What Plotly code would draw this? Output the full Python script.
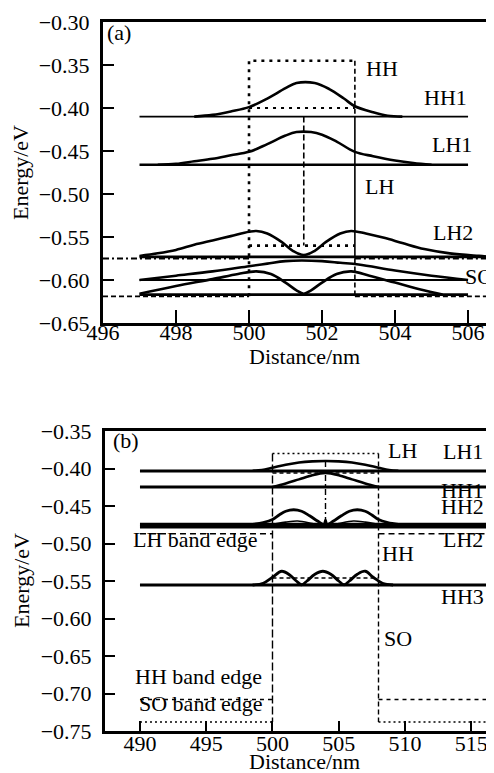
import plotly.graph_objects as go

W, H = 494, 773
FONT = "Liberation Serif, Times New Roman, serif"
FS = 22

# ---------------- panel (a) data ----------------
a_level_E = [-0.410, -0.466, -0.573, -0.600, -0.617]
a_level_x0 = [497.0, 497.0, 497.0, 497.0, 497.0]
a_level_x1 = [506.0, 506.0, 507.0, 506.0, 506.0]
a_level_w = [1.6, 2.4, 2.8, 2.0, 2.6]

a_hh1_x = [498.5, 499.0, 499.5, 500.0, 500.5, 501.0, 501.3, 501.8, 502.2, 502.6, 502.9, 503.4, 503.8, 504.2]
a_hh1_E = [-0.410, -0.408, -0.404, -0.399, -0.389, -0.377, -0.371, -0.371, -0.378, -0.389, -0.398, -0.405, -0.409, -0.410]

a_lh1_x = [497.5, 498.0, 498.5, 499.0, 499.5, 500.0, 500.5, 501.0, 501.3, 501.7, 502.0, 502.4, 502.9, 503.4, 504.0, 504.5, 505.0]
a_lh1_E = [-0.466, -0.465, -0.462, -0.459, -0.455, -0.451, -0.442, -0.432, -0.428, -0.428, -0.431, -0.439, -0.451, -0.456, -0.461, -0.464, -0.466]

a_lh2_x = [497.0, 497.5, 498.0, 498.5, 499.0, 499.5, 500.0, 500.2, 500.5, 500.9, 501.2, 501.5, 501.8, 502.1, 502.5, 502.8, 503.2, 503.7, 504.2, 504.8, 505.5, 506.3, 507.0]
a_lh2_E = [-0.572, -0.569, -0.565, -0.559, -0.554, -0.549, -0.544, -0.543, -0.546, -0.556, -0.566, -0.571, -0.566, -0.556, -0.546, -0.543, -0.546, -0.551, -0.557, -0.564, -0.569, -0.572, -0.574]

a_so1_x = [497.0, 498.0, 499.0, 500.0, 500.5, 501.0, 502.0, 502.5, 503.0, 504.0, 505.0, 506.0]
a_so1_E = [-0.600, -0.595, -0.590, -0.584, -0.581, -0.578, -0.578, -0.580, -0.582, -0.589, -0.595, -0.600]

a_so2_x = [497.0, 498.0, 499.0, 499.7, 500.2, 500.6, 501.0, 501.3, 501.5, 501.7, 502.0, 502.4, 502.8, 503.3, 504.0, 504.7, 505.3]
a_so2_E = [-0.616, -0.607, -0.599, -0.593, -0.590, -0.593, -0.603, -0.612, -0.616, -0.612, -0.603, -0.593, -0.590, -0.595, -0.603, -0.611, -0.617]

# potential profile (a)
a_well_left, a_well_right, a_center = 500.0, 502.9, 501.5
a_hh_top, a_inner_top, a_inner_mid = -0.345, -0.400, -0.560
a_edge_hh, a_edge_so = -0.575, -0.619

a_labels = ["(a)", "HH", "HH1", "LH1", "LH", "LH2", "SO"]
a_lab_x = [496.05, 503.15, 505.37, 505.55, 503.12, 505.6, 506.74]
a_lab_E = [-0.3186, -0.3616, -0.3948, -0.4494, -0.4988, -0.5523, -0.6029]
a_lab_anchor = ["left", "left", "center", "center", "left", "center", "right"]

# ---------------- panel (b) data ----------------
b_level_E = [-0.4033, -0.4247, -0.4745, -0.4775, -0.5553]
b_level_w = [3.0, 3.0, 3.5, 3.5, 3.0]
b_level_x0 = 490.0
b_level_x1 = 517.4

b_lh1_x = [498.5, 499.2, 500.0, 501.0, 502.0, 503.0, 504.0, 505.0, 506.0, 507.0, 508.0, 508.8, 509.5]
b_lh1_E = [-0.403, -0.402, -0.399, -0.395, -0.392, -0.3905, -0.390, -0.3905, -0.392, -0.395, -0.399, -0.402, -0.403]

b_hh1_x = [500.0, 501.0, 502.0, 503.0, 503.6, 504.0, 504.4, 505.0, 506.0, 507.0, 508.0]
b_hh1_E = [-0.4247, -0.420, -0.4145, -0.409, -0.4065, -0.406, -0.4065, -0.409, -0.4145, -0.420, -0.4247]

b_hh2_x = [498.5, 499.3, 500.0, 500.5, 501.0, 501.6, 502.2, 502.8, 503.4, 503.9, 504.0, 504.1, 504.6, 505.2, 505.8, 506.4, 507.0, 507.5, 508.0, 508.7, 509.5]
b_hh2_E = [-0.4745, -0.472, -0.468, -0.462, -0.457, -0.455, -0.457, -0.463, -0.470, -0.4745, -0.469, -0.4745, -0.470, -0.463, -0.457, -0.455, -0.457, -0.462, -0.468, -0.472, -0.4745]

b_lh2_x = [499.0, 500.0, 501.0, 501.9, 503.0, 504.0, 505.0, 506.1, 507.0, 508.0, 509.0]
b_lh2_E = [-0.4775, -0.4745, -0.4715, -0.470, -0.4735, -0.4775, -0.4735, -0.470, -0.4715, -0.4745, -0.4775]

b_hh3_x = [498.5, 499.3, 500.0, 500.7, 501.3, 501.8, 502.2, 502.6, 503.2, 503.8, 504.4, 505.0, 505.4, 505.8, 506.4, 507.0, 507.6, 508.3, 509.1]
b_hh3_E = [-0.5553, -0.553, -0.545, -0.537, -0.542, -0.550, -0.555, -0.550, -0.541, -0.537, -0.541, -0.550, -0.555, -0.550, -0.541, -0.537, -0.545, -0.553, -0.5553]

b_well_left, b_well_right, b_center = 500.0, 508.0, 504.0
b_lh_top, b_hh_in, b_hh_in2 = -0.380, -0.546, -0.406
b_edge_lh, b_edge_hh, b_edge_so = -0.487, -0.708, -0.738

b_labels = ["(b)", "LH", "LH1", "HH1", "HH2", "LH band edge", "LH2", "HH", "HH3", "SO", "HH band edge", "SO band edge"]
b_lab_x = [487.8, 508.54, 514.34, 514.34, 514.34, 494.2, 514.34, 508.08, 514.34, 508.3, 494.45, 494.6]
b_lab_E = [-0.3713, -0.384, -0.3853, -0.4373, -0.4593, -0.502, -0.5027, -0.5213, -0.5793, -0.634, -0.6847, -0.7207]
b_lab_anchor = ["left", "left", "center", "center", "center", "center", "center", "left", "center", "left", "center", "center"]

# ---------------- figure ----------------
fig = go.Figure()


def line(x, y, xa, ya, width=2.5, dash="solid", shape="linear"):
    fig.add_trace(go.Scatter(x=x, y=y, mode="lines", xaxis=xa, yaxis=ya,
                             line=dict(color="black", width=width, dash=dash, shape=shape),
                             hoverinfo="skip", showlegend=False))


# panel (a): potentials
line([a_well_left, a_well_left, a_well_right], [a_edge_so, a_hh_top, a_hh_top], "x", "y", 2.6, "3px,5px")
line([a_well_right, a_well_right], [a_hh_top, a_level_E[0]], "x", "y", 1.6, "5px,3px")
line([a_well_left, a_well_right], [a_inner_top, a_inner_top], "x", "y", 1.8, "3px,5px")
line([a_well_left, a_well_right], [a_inner_mid, a_inner_mid], "x", "y", 2.6, "3px,5px")
line([a_well_right, a_well_right], [a_level_E[0], a_edge_hh], "x", "y", 1.6)
line([a_well_right, a_well_right], [a_edge_hh, a_edge_so], "x", "y", 1.6, "5px,3px")
line([a_center, a_center], [a_level_E[0], a_inner_mid], "x", "y", 1.6, "6px,3px")
line([496.0, a_well_left, None, a_well_right, 507.0], [a_edge_hh, a_edge_hh, None, a_edge_hh, a_edge_hh], "x", "y", 1.8, "6px,3px,2px,3px")
line([496.0, a_well_left, None, a_well_right, 507.0], [a_edge_so, a_edge_so, None, a_edge_so, a_edge_so], "x", "y", 1.6, "5px,3px")

# panel (a): levels and wavefunctions
for E, x0, x1, w in zip(a_level_E, a_level_x0, a_level_x1, a_level_w):
    line([x0, x1], [E, E], "x", "y", w)
for xs, es in [(a_hh1_x, a_hh1_E), (a_lh1_x, a_lh1_E), (a_lh2_x, a_lh2_E), (a_so1_x, a_so1_E), (a_so2_x, a_so2_E)]:
    line(xs, es, "x", "y", 2.6, shape="spline")

# panel (b): potentials
line([b_well_left, b_well_left], [b_lh_top, b_edge_so], "x2", "y2", 1.4, "8px,3px")
line([b_well_right, b_well_right], [b_lh_top, b_edge_so], "x2", "y2", 1.4, "5px,3px")
line([b_well_left, b_well_right], [b_lh_top, b_lh_top], "x2", "y2", 1.4, "2px,3px")
line([b_center, b_center], [b_lh1_E[6], b_level_E[2]], "x2", "y2", 1.4, "6px,3px,2px,3px")
line([b_well_left, b_well_right], [b_hh_in, b_hh_in], "x2", "y2", 1.3, "4px,3px")
line([b_well_left, b_well_right], [b_hh_in2, b_hh_in2], "x2", "y2", 1.3, "4px,3px")
line([b_level_x0, b_well_left, None, b_well_right, b_level_x1], [b_edge_lh] * 2 + [None] + [b_edge_lh] * 2, "x2", "y2", 1.4, "6px,4px")
line([b_level_x0, b_well_left, None, b_well_right, b_level_x1], [b_edge_hh] * 2 + [None] + [b_edge_hh] * 2, "x2", "y2", 1.4, "4px,4px")
line([b_level_x0, b_well_left, None, b_well_right, b_level_x1], [b_edge_so] * 2 + [None] + [b_edge_so] * 2, "x2", "y2", 1.4, "2px,3px")

# panel (b): levels and wavefunctions
for E, w in zip(b_level_E, b_level_w):
    line([b_level_x0, b_level_x1], [E, E], "x2", "y2", w)
for xs, es, w in [(b_lh1_x, b_lh1_E, 2.6), (b_hh1_x, b_hh1_E, 2.6), (b_hh2_x, b_hh2_E, 2.8),
                  (b_lh2_x, b_lh2_E, 1.6), (b_hh3_x, b_hh3_E, 2.8)]:
    line(xs, es, "x2", "y2", w, shape="spline")

# annotations (labels)
ann = []
for t, x, y, anc in zip(a_labels, a_lab_x, a_lab_E, a_lab_anchor):
    ann.append(dict(text=t, x=x, y=y, xref="x", yref="y", xanchor=anc, yanchor="middle", yshift=6,
                    showarrow=False, font=dict(family=FONT, size=FS, color="black")))
for t, x, y, anc in zip(b_labels, b_lab_x, b_lab_E, b_lab_anchor):
    ann.append(dict(text=t, x=x, y=y, xref="x2", yref="y2", xanchor=anc, yanchor="middle", yshift=6,
                    showarrow=False, font=dict(family=FONT, size=FS, color="black")))

# axis titles as annotations (pixel-placed)
def px2paper(px, py):
    return px / W, 1 - py / H

for (px, py) in [(296, 348), (296, 753)]:
    xp, yp = px2paper(px, py)
    ann.append(dict(text="Distance/nm", x=xp, y=yp, xref="paper", yref="paper", xanchor="center",
                    yanchor="middle", showarrow=False, font=dict(family=FONT, size=FS, color="black")))
for (px, py) in [(13, 165), (13, 573)]:
    xp, yp = px2paper(px, py)
    ann.append(dict(text="Energy/eV", x=xp, y=yp, xref="paper", yref="paper", xanchor="center",
                    yanchor="middle", textangle=-90, showarrow=False,
                    font=dict(family=FONT, size=FS, color="black")))

axis_common = dict(showgrid=False, zeroline=False, showline=True, linecolor="black", linewidth=3,
                   ticks="inside", tickcolor="black", tickwidth=2, automargin=False,
                   tickfont=dict(family=FONT, size=FS, color="black"))

fig.update_layout(
    width=W, height=H,
    margin=dict(l=0, r=0, t=0, b=0),
    paper_bgcolor="white", plot_bgcolor="white",
    showlegend=False,
    annotations=ann,
    xaxis=dict(domain=[95 / W, 1], range=[496, 506.93], tickvals=[496, 498, 500, 502, 504, 506],
               ticklen=13, mirror=True, anchor="y", ticklabelstandoff=-12, **axis_common),
    yaxis=dict(domain=[1 - 315 / H, 1 - 14 / H], range=[-0.65, -0.30],
               tickvals=[-0.65, -0.60, -0.55, -0.50, -0.45, -0.40, -0.35, -0.30], tickformat=".2f",
               ticklen=11, anchor="x", ticklabelstandoff=6, **axis_common),
    xaxis2=dict(domain=[97 / W, 1], range=[487.36, 517.32], tickvals=[490, 495, 500, 505, 510, 515],
                ticklen=10, mirror=True, anchor="y2", ticklabelstandoff=-9, **axis_common),
    yaxis2=dict(domain=[1 - 723 / H, 1 - 423 / H], range=[-0.75, -0.35],
                tickvals=[-0.75, -0.70, -0.65, -0.60, -0.55, -0.50, -0.45, -0.40, -0.35], tickformat=".2f",
                ticklen=10, anchor="x2", ticklabelstandoff=6, **axis_common),
)

fig.write_html("out.html")
